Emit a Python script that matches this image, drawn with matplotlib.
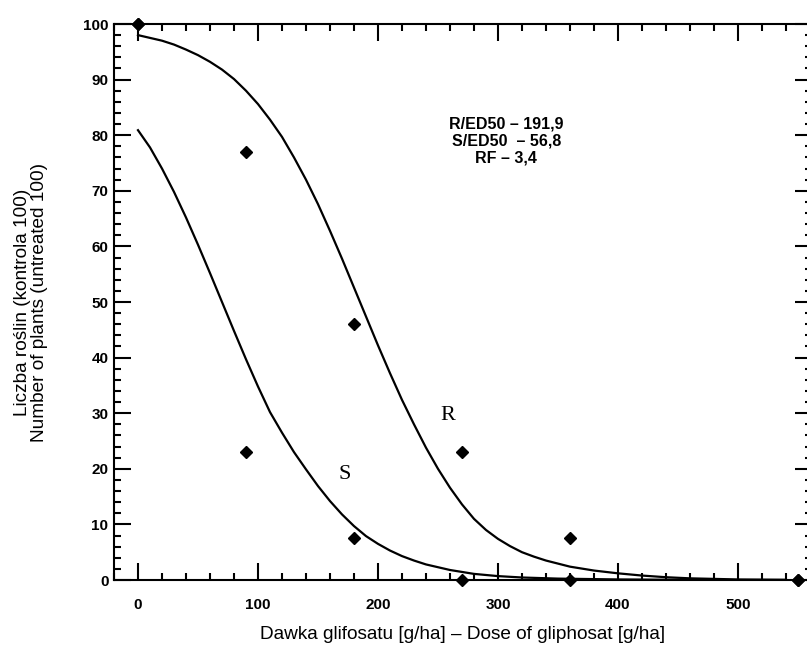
import matplotlib
matplotlib.use('Agg')
import matplotlib.pyplot as plt
from matplotlib.ticker import MultipleLocator

plt.rcParams['font.family'] = ['Liberation Sans', 'DejaVu Sans']

# observed points (dose g/ha, number of plants)
r_dose = [0, 90, 180, 270, 360, 550]
r_plants = [100, 77, 46, 23, 7.5, 0]
s_dose = [0, 90, 180, 270, 360, 550]
s_plants = [100, 23, 7.5, 0, 0, 0]

# fitted curves
r_fit_x = [0, 10, 20, 30, 40, 50, 60, 70, 80, 90, 100, 110, 120, 130, 140, 150,
           160, 170, 180, 190, 200, 210, 220, 230, 240, 250, 260, 270, 280, 290,
           300, 310, 320, 330, 340, 360, 380, 400, 420, 440, 460, 480, 500, 540]
r_fit_y = [98.0, 97.5, 97.0, 96.3, 95.4, 94.4, 93.2, 91.8, 90.1, 88.0, 85.6, 82.8,
           79.7, 76.0, 72.0, 67.6, 62.8, 57.8, 52.6, 47.4, 42.2, 37.2, 32.4, 28.0,
           23.8, 20.0, 16.6, 13.6, 11.0, 9.0, 7.4, 6.1, 5.0, 4.2, 3.5, 2.4, 1.7,
           1.2, 0.8, 0.5, 0.3, 0.2, 0.1, 0.05]
s_fit_x = [0, 10, 20, 30, 40, 50, 60, 70, 80, 90, 100, 110, 120, 130, 140, 150,
           160, 170, 180, 190, 200, 210, 220, 230, 240, 260, 280, 300, 320, 350,
           400, 450]
s_fit_y = [80.9, 77.8, 74.0, 69.8, 65.2, 60.3, 55.2, 50.0, 44.8, 39.7, 34.8, 30.2,
           26.5, 23.0, 19.9, 16.9, 14.2, 11.8, 9.7, 7.9, 6.5, 5.3, 4.3, 3.5, 2.8,
           1.8, 1.1, 0.7, 0.45, 0.25, 0.1, 0.04]

info = 'R/ED50 – 191,9\nS/ED50  – 56,8\nRF – 3,4'

fig = plt.figure(figsize=(8.07, 6.46), dpi=100)
ax = fig.add_axes([114 / 807, 66 / 646, 698 / 807, 556 / 646])

ax.plot(r_fit_x, r_fit_y, color='black', lw=1.6)
ax.plot(s_fit_x, s_fit_y, color='black', lw=1.6)
ax.plot(r_dose, r_plants, 'D', color='black', ms=6, clip_on=False, zorder=5)
ax.plot(s_dose, s_plants, 'D', color='black', ms=6, clip_on=False, zorder=5)

ax.text(258, 29.5, 'R', family='Liberation Serif', fontsize=16, ha='center', va='center')
ax.text(172, 19, 'S', family='Liberation Serif', fontsize=16, ha='center', va='center')
ax.text(307, 79, info, fontsize=11.5, fontweight='bold', ha='center', va='center',
        linespacing=1.15)

ax.set_xlim(-20, 561.7)
ax.set_ylim(0, 100)
ax.xaxis.set_major_locator(MultipleLocator(100))
ax.xaxis.set_minor_locator(MultipleLocator(20))
ax.yaxis.set_major_locator(MultipleLocator(10))
ax.yaxis.set_minor_locator(MultipleLocator(2))
ax.tick_params(which='both', direction='in', top=True, right=True, width=1.5)
ax.tick_params(which='major', length=12)
ax.tick_params(which='minor', length=5)
ax.tick_params(axis='x', pad=13)
ax.tick_params(axis='y', pad=4)
for lab in ax.get_xticklabels() + ax.get_yticklabels():
    lab.set_fontweight('bold')
    lab.set_fontsize(11)
for sp in ax.spines.values():
    sp.set_linewidth(1.5)

ax.set_xlabel('Dawka glifosatu [g/ha] – Dose of gliphosat [g/ha]', fontsize=13.7, labelpad=10)
ax.set_ylabel('Liczba roślin (kontrola 100)\nNumber of plants (untreated 100)', fontsize=13.7,
              labelpad=25, linespacing=1.0)

plt.savefig('out.png', dpi=100)
